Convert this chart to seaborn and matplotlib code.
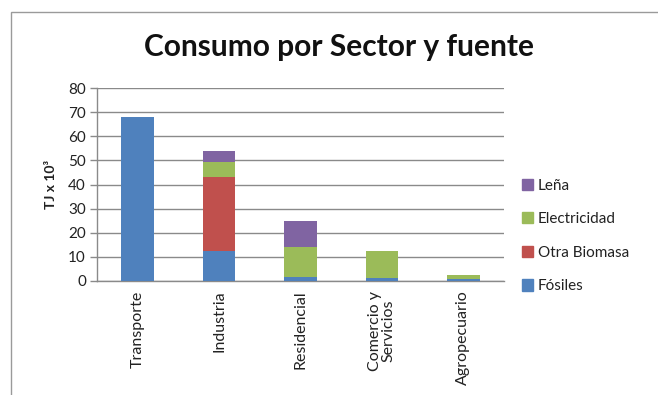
import matplotlib
matplotlib.use("Agg")
import matplotlib.pyplot as plt
import matplotlib.patches as mpatches
import numpy as np
import pandas as pd
import seaborn as sns

# Energy consumption by sector (TJ x 10^3), split by source
sectors = ["Transporte", "Industria", "Residencial", "Comercio y\nServicios", "Agropecuario"]
fosiles = [68.0, 12.6, 1.8, 1.1, 1.0]
otra_biomasa = [0.0, 30.7, 0.0, 0.0, 0.0]
electricidad = [0.0, 6.2, 12.2, 11.3, 1.5]
lena = [0.0, 4.2, 10.9, 0.0, 0.0]

series_names = ["Fósiles", "Otra Biomasa", "Electricidad", "Leña"]
series_values = [fosiles, otra_biomasa, electricidad, lena]
colors = ["#4F81BD", "#C0504D", "#9BBB59", "#8064A2"]
y_ticks = [0, 10, 20, 30, 40, 50, 60, 70, 80]

sns.set_theme(style="white")
plt.rcParams["font.family"] = ["Lato", "DejaVu Sans"]

fig = plt.figure(figsize=(6.58, 3.95), dpi=100)
fig.patch.set_facecolor("white")

# chart frame
frame = mpatches.Rectangle((11 / 658, -0.1), 1.2, 1 - 12 / 395 + 0.1,
                           transform=fig.transFigure, fill=False,
                           edgecolor="#9a9a9a", linewidth=1.0)
fig.patches.append(frame)

ax = fig.add_axes([97 / 658, 1 - 281 / 395, (504 - 97) / 658, (281 - 88) / 395])

# stacked bars: draw cumulative totals from top segment down so lower ones overlay
cum = np.cumsum(np.array(series_values), axis=0)
for i in range(len(series_names) - 1, -1, -1):
    df = pd.DataFrame({"sector": sectors, "valor": cum[i]})
    sns.barplot(data=df, x="sector", y="valor", color=colors[i], width=0.4,
                saturation=1, ax=ax, zorder=3, edgecolor="none")

ax.set_ylim(0, 80)
ax.set_xlim(-0.5, len(sectors) - 0.5)
ax.set_yticks(y_ticks)
ax.set_yticklabels([str(v) for v in y_ticks], fontsize=11, color="#222222")
ax.yaxis.grid(True, color="#8a8a8a", linewidth=1.0, zorder=0)
ax.set_axisbelow(True)

ax.set_xticks(range(len(sectors)))
ax.set_xticklabels(sectors, rotation=90, fontsize=11.5, color="#222222",
                   linespacing=0.95)
ax.tick_params(axis="x", which="major", length=0, pad=7)
ax.set_xticks(np.arange(-0.5, len(sectors), 1.0), minor=True)
ax.tick_params(axis="x", which="minor", length=5, width=1, color="#8a8a8a",
               direction="out")
ax.tick_params(axis="y", length=5, width=1, color="#8a8a8a", direction="out",
               left=True, pad=3)

for side in ["top", "right"]:
    ax.spines[side].set_visible(False)
for side in ["left", "bottom"]:
    ax.spines[side].set_color("#8a8a8a")
    ax.spines[side].set_linewidth(1.0)

ax.set_xlabel("")
ax.set_ylabel("TJ x 10³", fontsize=10, fontweight="bold", color="#222222",
              labelpad=8)

fig.text(339 / 658, 1 - 47 / 395, "Consumo por Sector y fuente", ha="center",
         va="center", fontsize=21.5, fontweight="bold", color="#111111")

handles = [mpatches.Patch(color=colors[i], label=series_names[i])
           for i in range(len(series_names) - 1, -1, -1)]
leg = fig.legend(handles=handles, loc="center left",
                 bbox_to_anchor=(508 / 658, 1 - 236 / 395), frameon=False,
                 fontsize=11, handlelength=0.75, handleheight=0.75,
                 handletextpad=0.3, labelspacing=1.28)
for t in leg.get_texts():
    t.set_color("#222222")

fig.savefig("out.png", dpi=100, facecolor="white")
